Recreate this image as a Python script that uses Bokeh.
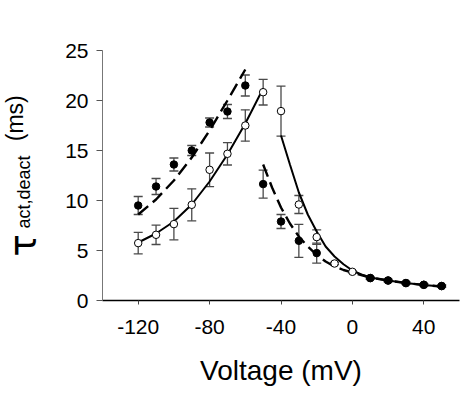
import numpy as np
from bokeh.plotting import figure
from bokeh.layouts import row
from bokeh.models import ColumnDataSource, Whisker, Range1d, FixedTicker, TeeHead
from bokeh.core.properties import value
from bokeh.embed import file_html
from bokeh.resources import INLINE

# ---- data ----
# open circles (solid fits)
v_open = [-120, -110, -100, -90, -80, -70, -60, -50, -40, -30, -20, -10, 0, 10, 20, 30, 40, 50]
tau_open = [5.74, 6.57, 7.64, 9.57, 13.07, 14.67, 17.5, 20.83, 18.94, 9.6, 6.34, 3.7, 2.87, 2.25, 2.0, 1.75, 1.57, 1.45]
err_open = [1.08, 0.97, 1.57, 1.6, 1.68, 1.12, 1.57, 1.28, 2.5, 0.9, 0.73, 0.12, 0.1, 0.1, 0.1, 0.1, 0.1, 0.1]

# filled circles (dashed fits)
v_fill = [-120, -110, -100, -90, -80, -70, -60, -50, -40, -30, -20, 10, 20, 30, 40, 50]
tau_fill = [9.5, 11.4, 13.6, 15.0, 17.8, 18.9, 21.5, 11.64, 7.9, 5.97, 4.74, 2.24, 2.0, 1.74, 1.57, 1.44]
err_fill = [0.9, 0.8, 0.65, 0.5, 0.45, 0.7, 1.05, 1.4, 0.7, 1.65, 1.0, 0.1, 0.1, 0.1, 0.1, 0.1]

# fit curves
fit_solid_left_v = [-120, -110, -100, -90, -80, -70, -60, -50]
fit_solid_left_t = [5.8, 6.7, 7.9, 9.6, 11.9, 14.6, 17.7, 21.2]
fit_dash_left_v = [-120, -110, -100, -90, -80, -70, -60]
fit_dash_left_t = [8.6, 10.1, 12.0, 14.3, 17.0, 20.0, 23.1]
fit_solid_right_v = [-40, -35, -30, -25, -20, -15, -10, -5, 0, 5, 10, 20, 30, 40, 50]
fit_solid_right_t = [16.5, 13.6, 10.8, 8.6, 6.9, 5.4, 4.4, 3.63, 3.0, 2.6, 2.3, 2.0, 1.75, 1.55, 1.4]
fit_dash_right_v = [-50, -45, -40, -35, -30, -25, -20, -15, -10, -5, 0, 10, 20, 30, 40, 50]
fit_dash_right_t = [13.6, 11.3, 9.3, 7.7, 6.4, 5.4, 4.57, 3.9, 3.4, 3.05, 2.8, 2.3, 2.0, 1.75, 1.55, 1.4]

x_ticks = [-120, -80, -40, 0, 40]
x_tick_labels = ["-120", "-80", "-40", "0", "40"]
y_ticks = [0, 5, 10, 15, 20, 25]

y_label_parts = ["τ", "act,deact", "(ms)"]
x_label = "Voltage (mV)"

FONT = "Liberation Sans"
LW = 50  # width of the y-label strip
TOP, BOTTOM, FH = 50, 95, 250

y_range = Range1d(0, 25)

# ---- y-label strip (shares the y range with the plot) ----
lab = figure(frame_width=LW, frame_height=FH, output_backend="svg", toolbar_location=None,
             x_range=Range1d(0, LW), y_range=y_range, title=None,
             min_border_left=0, min_border_right=0, min_border_top=TOP, min_border_bottom=BOTTOM,
             x_axis_type=None, y_axis_type=None)
lab.outline_line_color = None
lab.grid.visible = False
for txt, px, py, fnt, fs in [(y_label_parts[0], 22.5, 4.4, "DejaVu Sans", "37px"),
                             (y_label_parts[1], 23, 7.2, FONT, "18px"),
                             (y_label_parts[2], 14, 15.93, FONT, "23px")]:
    lab.text(x=[px], y=[py], text=[txt], angle=np.pi / 2, text_align="left",
             text_baseline="alphabetic", text_font=value(fnt), text_font_size=value(fs),
             text_color="black")

# ---- main plot ----
p = figure(frame_width=357, frame_height=FH, output_backend="svg", toolbar_location=None,
           x_range=Range1d(-140, 60), y_range=y_range, title=None,
           min_border_left=102 - LW, min_border_right=6, min_border_top=TOP, min_border_bottom=BOTTOM)
p.outline_line_color = None
p.grid.visible = False

for ax in (p.xaxis[0], p.yaxis[0]):
    ax.major_label_text_font = FONT
    ax.major_label_text_font_size = "21px"
    ax.major_label_text_color = "black"
    ax.minor_tick_line_color = None
    ax.major_tick_in = 0

p.xaxis.ticker = FixedTicker(ticks=x_ticks)
p.xaxis.major_label_overrides = {t: s for t, s in zip(x_ticks, x_tick_labels)}
p.yaxis.ticker = FixedTicker(ticks=y_ticks)
p.xaxis.axis_line_color = "black"
p.xaxis.axis_line_width = 1.3
p.xaxis.major_tick_line_color = "#444444"
p.xaxis.major_tick_out = 4
p.xaxis.major_label_standoff = 15
p.xaxis.axis_label = x_label
p.xaxis.axis_label_text_font = FONT
p.xaxis.axis_label_text_font_size = "28px"
p.xaxis.axis_label_text_font_style = "normal"
p.xaxis.axis_label_text_color = "black"
p.xaxis.axis_label_standoff = 18

p.yaxis.axis_line_color = "#777777"
p.yaxis.major_tick_line_color = "#555555"
p.yaxis.major_tick_out = 6
p.yaxis.major_label_standoff = 8

# error bars
src_o = ColumnDataSource(dict(x=v_open, y=tau_open,
                              lo=[t - e for t, e in zip(tau_open, err_open)],
                              hi=[t + e for t, e in zip(tau_open, err_open)]))
src_f = ColumnDataSource(dict(x=v_fill, y=tau_fill,
                              lo=[t - e for t, e in zip(tau_fill, err_fill)],
                              hi=[t + e for t, e in zip(tau_fill, err_fill)]))
EB = "#4a4a4a"
for src in (src_o, src_f):
    w = Whisker(source=src, base="x", upper="hi", lower="lo", line_color=EB, line_width=1.3,
                upper_head=TeeHead(size=9, line_color=EB, line_width=1.3),
                lower_head=TeeHead(size=9, line_color=EB, line_width=1.3))
    p.add_layout(w)

# fits
p.line(fit_solid_left_v, fit_solid_left_t, line_color="black", line_width=2)
p.line(fit_solid_right_v, fit_solid_right_t, line_color="black", line_width=2)
p.line(fit_dash_left_v, fit_dash_left_t, line_color="black", line_width=2.4, line_dash="13 6")
p.line(fit_dash_right_v, fit_dash_right_t, line_color="black", line_width=2.4, line_dash="13 6")

# points
p.scatter("x", "y", source=src_o, size=7.5, fill_color="white", line_color="black", line_width=1)
p.scatter("x", "y", source=src_f, size=7.5, fill_color="black", line_color="black", line_width=1)

layout = row(lab, p, spacing=0)
open("out.html", "w").write(file_html(layout, INLINE))
